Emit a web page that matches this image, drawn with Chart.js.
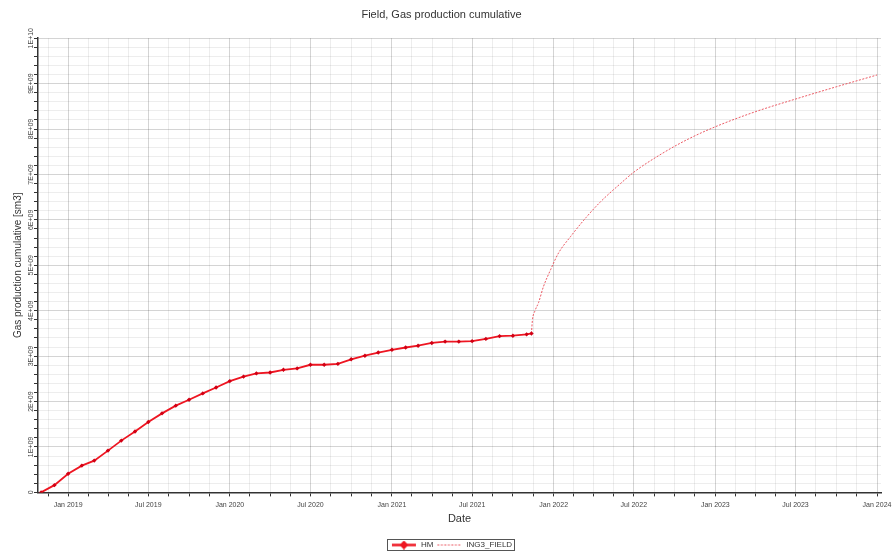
<!DOCTYPE html>
<html>
<head>
<meta charset="utf-8">
<script src="https://cdn.jsdelivr.net/npm/chart.js@4.4.1/dist/chart.umd.min.js"></script>
<style>
  html, body { margin: 0; padding: 0; background: #ffffff; }
  #wrap { width: 892px; height: 554px; }
</style>
</head>
<body>
<div id="wrap"><canvas id="c" width="892" height="554"></canvas></div>
<script>
// History-matched cumulative gas (monthly) and the ING3_FIELD forecast, in sm3
const hmDates = [
  '2018-11-01','2018-12-01','2019-01-01','2019-02-01','2019-03-01','2019-04-01',
  '2019-05-01','2019-06-01','2019-07-01','2019-08-01','2019-09-01','2019-10-01',
  '2019-11-01','2019-12-01','2020-01-01','2020-02-01','2020-03-01','2020-04-01',
  '2020-05-01','2020-06-01','2020-07-01','2020-08-01','2020-09-01','2020-10-01',
  '2020-11-01','2020-12-01','2021-01-01','2021-02-01','2021-03-01','2021-04-01',
  '2021-05-01','2021-06-01','2021-07-01','2021-08-01','2021-09-01','2021-10-01',
  '2021-11-01','2021-11-12'
];
const hmValues = [
  0, 0.16e9, 0.41e9, 0.59e9, 0.70e9, 0.92e9,
  1.14e9, 1.34e9, 1.55e9, 1.74e9, 1.91e9, 2.04e9,
  2.18e9, 2.31e9, 2.45e9, 2.55e9, 2.62e9, 2.64e9,
  2.70e9, 2.73e9, 2.81e9, 2.81e9, 2.83e9, 2.93e9,
  3.01e9, 3.08e9, 3.14e9, 3.19e9, 3.23e9, 3.29e9,
  3.32e9, 3.32e9, 3.33e9, 3.38e9, 3.44e9, 3.45e9,
  3.48e9, 3.50e9
];
const fcDates = [
  '2021-11-12','2021-11-14','2021-11-20','2021-11-28','2021-12-09','2021-12-25',
  '2022-01-12','2022-02-08','2022-03-15','2022-04-17','2022-06-01','2022-07-01',
  '2022-09-01','2022-11-01','2023-01-01','2023-04-01','2023-07-01','2023-10-01',
  '2024-01-01'
];
const fcValues = [
  3.50e9, 3.78e9, 4.00e9, 4.18e9, 4.53e9, 4.90e9,
  5.27e9, 5.63e9, 6.05e9, 6.40e9, 6.80e9, 7.05e9,
  7.45e9, 7.78e9, 8.05e9, 8.38e9, 8.66e9, 8.93e9,
  9.19e9
];

// Axis labels
const xTickDates = ['2019-01-01','2019-07-01','2020-01-01','2020-07-01','2021-01-01','2021-07-01',
                    '2022-01-01','2022-07-01','2023-01-01','2023-07-01','2024-01-01'];
const xTickLabels = ['Jan 2019','Jul 2019','Jan 2020','Jul 2020','Jan 2021','Jul 2021',
                     'Jan 2022','Jul 2022','Jan 2023','Jul 2023','Jan 2024'];
const yTickValues = [0,1e9,2e9,3e9,4e9,5e9,6e9,7e9,8e9,9e9,1e10];
const yTickLabels = ['0','1E+09','2E+09','3E+09','4E+09','5E+09','6E+09','7E+09','8E+09','9E+09','1E+10'];

const seriesNames = ['HM', 'ING3_FIELD'];

const toMs = s => { const [y, m, d] = s.split('-').map(Number); return Date.UTC(y, m - 1, d); };

const X_MIN = toMs('2018-10-25');
const X_MAX = toMs('2024-01-10');

const xMajor = xTickDates.map(toMs);
// minor grid every quarter of a half-year between the labelled dates
let xGrid = [];
for (let i = 0; i < xMajor.length; i++) {
  xGrid.push({ value: xMajor[i], major: true });
  if (i < xMajor.length - 1) {
    const step = (xMajor[i + 1] - xMajor[i]) / 4;
    for (let k = 1; k < 4; k++) xGrid.push({ value: xMajor[i] + k * step, major: false });
  }
}
{
  const step = (xMajor[1] - xMajor[0]) / 4;
  for (let k = 1; k < 4; k++) xGrid.push({ value: xMajor[0] - k * step, major: false });
}
xGrid = xGrid.filter(g => g.value >= X_MIN && g.value <= X_MAX).sort((a, b) => a.value - b.value);

const yGrid = [];
for (let v = 0; v <= 1e10 + 1; v += 2e8) {
  const idx = yTickValues.findIndex(t => Math.abs(t - v) < 1);
  yGrid.push({ value: v, major: idx >= 0 });
}

const HM_RED = 'rgb(238,22,34)';
const FC_RED = 'rgba(232,60,72,0.85)';

function legendSymbol(kind) {
  const cv = document.createElement('canvas');
  cv.width = 26; cv.height = 9;
  const g = cv.getContext('2d');
  if (kind === 'hm') {
    g.strokeStyle = HM_RED; g.lineWidth = 2.5;
    g.beginPath(); g.moveTo(1, 4.5); g.lineTo(25, 4.5); g.stroke();
    g.fillStyle = HM_RED;
    g.beginPath(); g.moveTo(13, 0); g.lineTo(17.5, 4.5); g.lineTo(13, 9); g.lineTo(8.5, 4.5); g.closePath(); g.fill();
  } else {
    g.strokeStyle = FC_RED; g.lineWidth = 1;
    g.setLineDash([2, 1.5]);
    g.beginPath(); g.moveTo(1, 4.5); g.lineTo(25, 4.5); g.stroke();
  }
  return cv;
}

// Legend sits slightly right of centre inside a thin frame
const LEGEND_SHIFT = 10;
const legendFrame = {
  id: 'legendFrame',
  afterLayout(chart) {
    const lg = chart.legend;
    if (!lg) return;
    lg.left += LEGEND_SHIFT; lg.right += LEGEND_SHIFT;
    (lg.legendHitBoxes || []).forEach(h => { h.left += LEGEND_SHIFT; });
  },
  afterDraw(chart) {
    const boxes = chart.legend && chart.legend.legendHitBoxes;
    if (!boxes || !boxes.length) return;
    let l = Infinity, r = -Infinity, t = Infinity, b = -Infinity;
    boxes.forEach(h => { l = Math.min(l, h.left); r = Math.max(r, h.left + h.width); t = Math.min(t, h.top); b = Math.max(b, h.top + h.height); });
    const ctx = chart.ctx;
    ctx.save();
    ctx.strokeStyle = '#555'; ctx.lineWidth = 1;
    ctx.strokeRect(Math.round(l - 4) + 0.5, Math.round(t - 2) + 0.5, Math.round(r - l + 6), Math.round(b - t + 3));
    ctx.restore();
  }
};

Chart.defaults.font.family = '"Liberation Sans", Arial, sans-serif';
Chart.defaults.color = '#444';

new Chart(document.getElementById('c'), {
  type: 'line',
  data: {
    datasets: [
      {
        label: seriesNames[0],
        data: hmDates.map((d, i) => ({ x: toMs(d), y: hmValues[i] })),
        borderColor: HM_RED,
        backgroundColor: 'rgb(210,0,20)',
        borderWidth: 1.8,
        pointStyle: 'rectRot',
        pointRadius: 2.2,
        pointBorderWidth: 0,
        tension: 0
      },
      {
        label: seriesNames[1],
        data: fcDates.map((d, i) => ({ x: toMs(d), y: fcValues[i] })),
        borderColor: FC_RED,
        borderWidth: 1,
        borderDash: [2, 1.5],
        pointRadius: 0,
        cubicInterpolationMode: 'monotone'
      }
    ]
  },
  options: {
    responsive: false,
    animation: false,
    layout: { padding: { left: 2, right: 11, top: 0, bottom: -5 } },
    plugins: {
      title: {
        display: true,
        text: 'Field, Gas production cumulative',
        color: '#333',
        font: { size: 11, weight: 'normal' },
        padding: { top: 8, bottom: 17 }
      },
      legend: {
        position: 'bottom',
        labels: {
          usePointStyle: true,
          pointStyleWidth: 26,
          font: { size: 8 },
          color: '#333',
          padding: 3,
          generateLabels: () => [
            { text: seriesNames[0], pointStyle: legendSymbol('hm'), fontColor: '#333', strokeStyle: 'transparent', fillStyle: 'transparent', lineWidth: 0, datasetIndex: 0 },
            { text: seriesNames[1], pointStyle: legendSymbol('fc'), fontColor: '#333', strokeStyle: 'transparent', fillStyle: 'transparent', lineWidth: 0, datasetIndex: 1 }
          ]
        }
      },
      tooltip: { enabled: false }
    },
    scales: {
      x: {
        type: 'linear',
        min: X_MIN,
        max: X_MAX,
        afterBuildTicks: s => { s.ticks = xGrid.map(g => ({ value: g.value, major: g.major })); },
        afterFit: s => { s.paddingLeft = 0; s.paddingRight = 0; },
        ticks: {
          autoSkip: false,
          maxRotation: 0,
          minRotation: 0,
          padding: 4,
          font: { size: 7 },
          color: '#444',
          callback: (v) => { const i = xMajor.indexOf(v); return i >= 0 ? xTickLabels[i] : ''; }
        },
        grid: {
          color: c => (c.tick && c.tick.major) ? 'rgba(0,0,0,0.17)' : 'rgba(0,0,0,0.07)',
          tickColor: '#333',
          tickLength: 4,
          drawTicks: true
        },
        border: { color: '#333', width: 1.5 },
        title: { display: true, text: 'Date', color: '#333', font: { size: 11 }, padding: { top: 0, bottom: 12 } }
      },
      y: {
        type: 'linear',
        min: 0,
        max: 1e10,
        afterBuildTicks: s => { s.ticks = yGrid.map(g => ({ value: g.value, major: g.major })); },
        afterFit: s => { s.width = 36; },
        ticks: {
          autoSkip: false,
          minRotation: 90,
          maxRotation: 90,
          crossAlign: 'center',
          padding: -7,
          font: { size: 7 },
          color: '#444',
          callback: (v) => { const i = yTickValues.findIndex(t => Math.abs(t - v) < 1); return i >= 0 ? yTickLabels[i] : ''; }
        },
        grid: {
          color: c => (c.tick && c.tick.major) ? 'rgba(0,0,0,0.17)' : 'rgba(0,0,0,0.07)',
          tickColor: '#333',
          tickLength: 4
        },
        border: { color: '#333', width: 1.5 },
        title: { display: true, text: 'Gas production cumulative [sm3]', color: '#333', font: { size: 10 }, padding: { top: 10, bottom: 0 } }
      }
    }
  },
  plugins: [legendFrame]
});
</script>
</body>
</html>
